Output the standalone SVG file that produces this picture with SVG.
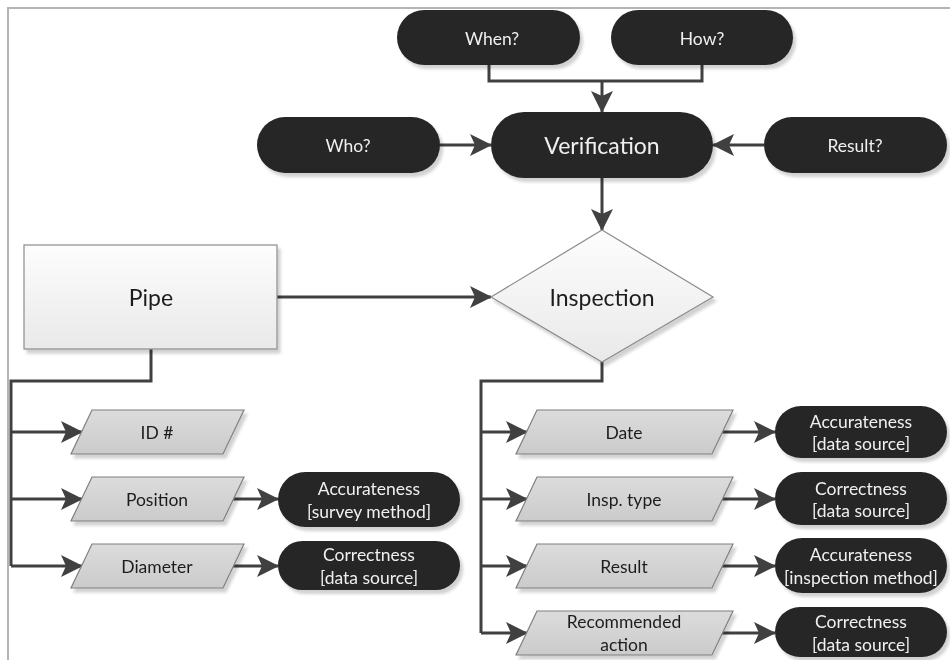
<svg xmlns="http://www.w3.org/2000/svg" width="950" height="660" viewBox="0 0 950 660">
  <defs>
    <style>
      .pill { fill: #252525; }
      .para { fill: url(#paraFill); stroke: #7f7f7f; stroke-width: 1.2; }
      .box { fill: url(#boxFill); stroke: #8c8c8c; stroke-width: 1.2; }
      .wire { fill: none; stroke: #404040; stroke-width: 3; }
      .arrow { marker-end: url(#head); }
      .lt { font-family: Lato, "Open Sans", "Liberation Sans", sans-serif; font-size: 17.5px; fill: #f0f0f0; text-anchor: middle; dominant-baseline: central; }
      .dt { font-family: Lato, "Open Sans", "Liberation Sans", sans-serif; font-size: 17.5px; fill: #1e1e1e; text-anchor: middle; dominant-baseline: central; }
      .big { font-size: 23px; }
    </style>
    <linearGradient id="paraFill" x1="0" y1="0" x2="0" y2="1">
      <stop offset="0" stop-color="#dcdcdc"/>
      <stop offset="1" stop-color="#cbcbcb"/>
    </linearGradient>
    <linearGradient id="boxFill" x1="0" y1="0" x2="0" y2="1">
      <stop offset="0" stop-color="#fdfdfd"/>
      <stop offset="1" stop-color="#e9e9e9"/>
    </linearGradient>
    <filter id="shadow" x="-10%" y="-10%" width="130%" height="140%">
      <feDropShadow dx="3" dy="4" stdDeviation="1.5" flood-color="#000" flood-opacity="0.18"/>
    </filter>
    <marker id="head" markerUnits="userSpaceOnUse" markerWidth="22" markerHeight="22" viewBox="0 0 22 22" refX="21" refY="11" orient="auto">
      <path d="M0,0 L22,11 L0,22 L5,11 z" fill="#404040"/>
    </marker>
  </defs>

  <!-- page frame -->
  <path d="M8,660 V8 H950" fill="none" stroke="#b4b4b4" stroke-width="2"/>

  <!-- connectors -->
  <g id="connectors">
    <path class="wire" d="M489,65 V81 H702 V65"/>
    <path class="wire arrow" d="M602,81 V112"/>
    <path class="wire arrow" d="M440,145 H491"/>
    <path class="wire arrow" d="M764,145 H713"/>
    <path class="wire arrow" d="M602,178 V230"/>
    <path class="wire arrow" d="M277,297 H491"/>
    <path class="wire" d="M151,349 V381 H11 V566"/>
    <path class="wire arrow" d="M11,432 H82"/>
    <path class="wire arrow" d="M11,499 H82"/>
    <path class="wire arrow" d="M11,566 H82"/>
    <path class="wire arrow" d="M233,499 H278"/>
    <path class="wire arrow" d="M233,566 H278"/>
    <path class="wire" d="M602,362 V381 H481 V633"/>
    <path class="wire arrow" d="M481,432 H527"/>
    <path class="wire arrow" d="M481,499 H527"/>
    <path class="wire arrow" d="M481,566 H527"/>
    <path class="wire arrow" d="M481,633 H527"/>
    <path class="wire arrow" d="M722,432 H775"/>
    <path class="wire arrow" d="M722,499 H775"/>
    <path class="wire arrow" d="M722,566 H775"/>
    <path class="wire arrow" d="M722,633 H775"/>
  </g>

  <!-- question terminals -->
  <g id="when" filter="url(#shadow)">
    <rect class="pill" x="397" y="10" width="183" height="55" rx="27.5"/>
    <text class="lt" x="492" y="38">When?</text>
  </g>
  <g id="how" filter="url(#shadow)">
    <rect class="pill" x="611" y="10" width="182" height="55" rx="27.5"/>
    <text class="lt" x="702" y="38">How?</text>
  </g>
  <g id="who" filter="url(#shadow)">
    <rect class="pill" x="257" y="117" width="183" height="56" rx="28"/>
    <text class="lt" x="348" y="145">Who?</text>
  </g>
  <g id="verification" filter="url(#shadow)">
    <rect class="pill" x="491" y="112" width="222" height="66" rx="33"/>
    <text class="lt big" x="602" y="145">Verification</text>
  </g>
  <g id="result-q" filter="url(#shadow)">
    <rect class="pill" x="764" y="117" width="183" height="56" rx="28"/>
    <text class="lt" x="855" y="145">Result?</text>
  </g>

  <!-- main entities -->
  <g id="pipe" filter="url(#shadow)">
    <rect class="box" x="24" y="245" width="253" height="104"/>
    <text class="dt big" x="151" y="297">Pipe</text>
  </g>
  <g id="inspection" filter="url(#shadow)">
    <polygon class="box" points="602,230 713,297 602,362 491,297"/>
    <text class="dt big" x="602" y="297">Inspection</text>
  </g>

  <!-- pipe attributes -->
  <g id="id-no" filter="url(#shadow)">
    <polygon class="para" points="92,410 244,410 223,454 71,454"/>
    <text class="dt" x="157" y="432">ID #</text>
  </g>
  <g id="position" filter="url(#shadow)">
    <polygon class="para" points="92,477 244,477 223,521 71,521"/>
    <text class="dt" x="157" y="499">Position</text>
  </g>
  <g id="diameter" filter="url(#shadow)">
    <polygon class="para" points="92,544 244,544 223,588 71,588"/>
    <text class="dt" x="157" y="566">Diameter</text>
  </g>
  <g id="pos-quality" filter="url(#shadow)">
    <rect class="pill" x="278" y="472" width="182" height="55" rx="27.5"/>
    <text class="lt" x="369" y="488">Accurateness</text>
    <text class="lt" x="369" y="511">[survey method]</text>
  </g>
  <g id="dia-quality" filter="url(#shadow)">
    <rect class="pill" x="278" y="541" width="182" height="49" rx="24.5"/>
    <text class="lt" x="369" y="554">Correctness</text>
    <text class="lt" x="369" y="577">[data source]</text>
  </g>

  <!-- inspection attributes -->
  <g id="date" filter="url(#shadow)">
    <polygon class="para" points="537,410 733,410 712,454 516,454"/>
    <text class="dt" x="624" y="432">Date</text>
  </g>
  <g id="insp-type" filter="url(#shadow)">
    <polygon class="para" points="537,477 733,477 712,521 516,521"/>
    <text class="dt" x="624" y="499">Insp. type</text>
  </g>
  <g id="result" filter="url(#shadow)">
    <polygon class="para" points="537,544 733,544 712,588 516,588"/>
    <text class="dt" x="624" y="566">Result</text>
  </g>
  <g id="recommended" filter="url(#shadow)">
    <polygon class="para" points="537,611 733,611 712,655 516,655"/>
    <text class="dt" x="624" y="621">Recommended</text>
    <text class="dt" x="624" y="644">action</text>
  </g>
  <g id="date-quality" filter="url(#shadow)">
    <rect class="pill" x="775" y="406" width="172" height="52" rx="26"/>
    <text class="lt" x="861" y="421">Accurateness</text>
    <text class="lt" x="861" y="443">[data source]</text>
  </g>
  <g id="type-quality" filter="url(#shadow)">
    <rect class="pill" x="775" y="472" width="172" height="53" rx="26.5"/>
    <text class="lt" x="861" y="488">Correctness</text>
    <text class="lt" x="861" y="510">[data source]</text>
  </g>
  <g id="result-quality" filter="url(#shadow)">
    <rect class="pill" x="775" y="538" width="172" height="55" rx="27.5"/>
    <text class="lt" x="861" y="554">Accurateness</text>
    <text class="lt" x="861" y="577">[inspection method]</text>
  </g>
  <g id="action-quality" filter="url(#shadow)">
    <rect class="pill" x="775" y="607" width="172" height="50" rx="25"/>
    <text class="lt" x="861" y="621">Correctness</text>
    <text class="lt" x="861" y="644">[data source]</text>
  </g>
</svg>
